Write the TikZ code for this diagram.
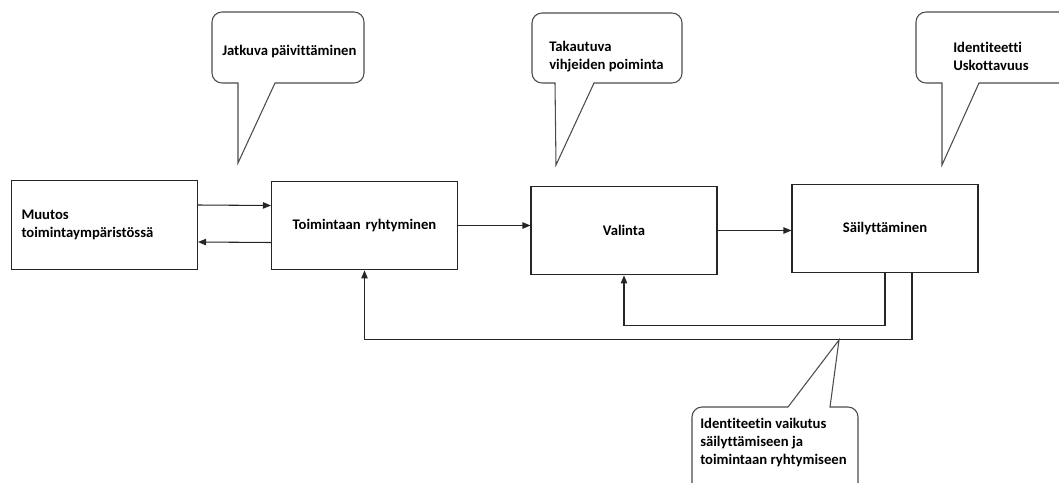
\documentclass[tikz,border=0pt]{standalone}
\usepackage{fontspec}
\setmainfont{Carlito}[Ligatures=NoCommon]
\usetikzlibrary{arrows.meta}

\begin{document}
\begin{tikzpicture}[x=0.75pt, y=-0.75pt, >={Triangle[length=6pt,width=4.8pt]},
    box/.style={draw=black!85, line width=0.8pt, minimum height=66.5pt,
      text width=124.5pt, inner xsep=7.5pt, align=center,
      font=\bfseries\fontsize{11}{13.5}\selectfont},
    link/.style={->, draw=black!85, line width=0.8pt},
    bubble/.style={draw=black!70, line width=0.8pt, fill=white},
    note/.style={anchor=west, align=left, inner sep=0pt,
      font=\bfseries\fontsize{11}{13.5}\selectfont}]
  \useasboundingbox (0,0) rectangle (1059,482);
  \clip (0,0) rectangle (1059,482);

  % Main chain
  \node[box, align=left] (muutos) at (104.5,225) {Muutos\\toimintaympäristössä};
  \node[box] (ryhtyminen) at (364.5,225.5) {Toimintaan ryhtyminen};
  \node[box] (valinta) at (624,230.5) {Valinta};
  \node[box] (sailytys) at (885,228.5) {Säilyttäminen};

  \draw[link] ([yshift=15pt]muutos.east) -- ([yshift=15pt]ryhtyminen.west);
  \draw[link] ([yshift=-12.75pt]ryhtyminen.west) -- ([yshift=-12.75pt]muutos.east);
  \draw[link] (ryhtyminen.east) -- (ryhtyminen.east -| valinta.west);
  \draw[link] (valinta.east) -- (valinta.east -| sailytys.west);

  % Feedback loops
  \draw[link] (sailytys.south) -- ++(0,-39pt) -| (valinta.south);
  \draw[link] ([xshift=20.25pt]sailytys.south) -- ++(0,-49.5pt) -| (ryhtyminen.south);

  % Speech bubbles
  \draw[bubble] (238,163) -- (275,83) [rounded corners=7.5pt] -- (364,83)
    -- (364,12) -- (212,12) -- (212,83) [sharp corners] -- (238,83) -- cycle;
  \node[note] (jatkuva) at (222,52) {Jatkuva päivittäminen};

  \draw[bubble] (556,165) -- (594,83) [rounded corners=7.5pt] -- (682,83)
    -- (682,13) -- (532,13) -- (532,83) [sharp corners] -- (555,83) -- cycle;
  \node[note] (takautuva) at (549,56.5) {Takautuva\\vihjeiden poiminta};

  \draw[bubble] (942,165) -- (979,83) [rounded corners=7.5pt] -- (1080,83)
    -- (1080,12) -- (916,12) -- (916,83) [sharp corners] -- (942,83) -- cycle;
  \node[note] (identiteetti) at (953,56.5) {Identiteetti\\Uskottavuus};

  \draw[bubble] (839,340) -- (830,407) [rounded corners=7.5pt] -- (858,407)
    -- (858,500) -- (692,500) -- (692,407) [sharp corners] -- (788,407) -- cycle;
  \node[note] (vaikutus) at (700,442) {Identiteetin vaikutus\\säilyttämiseen ja\\toimintaan ryhtymiseen};
\end{tikzpicture}
\end{document}
